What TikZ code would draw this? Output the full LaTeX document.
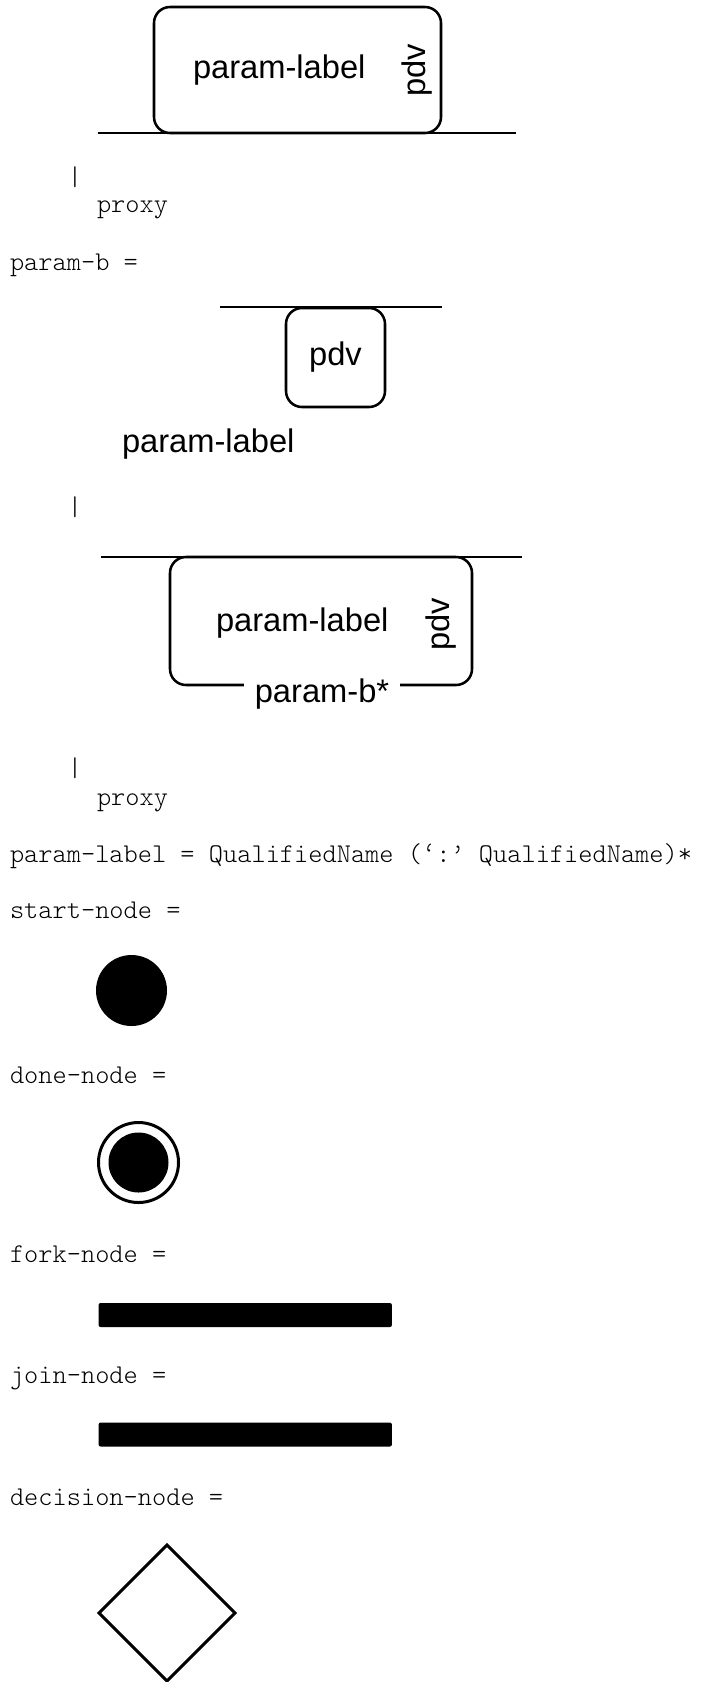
\documentclass[tikz,border=0pt]{standalone}
\usepackage{fontspec}
\setmainfont{Liberation Sans}
\setmonofont{lmmonolt10-regular}[Extension=.otf]
\usetikzlibrary{shapes.geometric}

\tikzstyle{every node}=[inner sep=0pt, outer sep=0pt]
\tikzstyle{sanstext}=[font={\fontsize{24.5}{28}\selectfont}]
\tikzstyle{code}=[font={\fontsize{20.3}{23}\selectfont\ttfamily}, anchor=base west]
\tikzstyle{pbox}=[draw, line width=1.9pt, rounded corners=12pt]
\tikzstyle{rail}=[line width=2.2pt]
\tikzstyle{bar}=[fill=black, rounded corners=1.5pt, minimum width=220pt, minimum height=18pt]

\begin{document}
\begin{tikzpicture}[x=0.75pt, y=-0.75pt]
    \useasboundingbox (0,0) rectangle (704,1682);

    \node [pbox, minimum width=215.25pt, minimum height=94.5pt] (box1) at (297.5,70) {};
    \coordinate (r1a) at (97.6,133);
    \coordinate (r1b) at (516,133);
    \draw [rail] (r1a) -- (r1b);
    \node [sanstext, anchor=base west] (lab1) at (193,78) {param-label};
    \node [sanstext, rotate=90] (pdv1) at (417,70) {pdv};

    \node [code, anchor=center] (bar1) at (75,177) {|};
    \node [code] (proxy1) at (97,212) {proxy};
    \node [code] (paramb) at (10,270) {param-b =};

    \coordinate (r2a) at (220,307);
    \coordinate (r2b) at (442,307);
    \draw [rail] (r2a) -- (r2b);
    \node [pbox, minimum width=74.25pt, minimum height=74.25pt] (box2) at (335.5,357.5) {};
    \node [sanstext] (pdv2) at (box2.center) {pdv};

    \node [sanstext, anchor=base west] (lab2) at (122,452) {param-label};
    \node [code, anchor=center] (bar2) at (75,507) {|};

    \coordinate (r3a) at (101,557);
    \coordinate (r3b) at (522,557);
    \draw [rail] (r3a) -- (r3b);
    \node [pbox, minimum width=226.5pt, minimum height=96pt] (box3) at (321,621) {};
    \node [sanstext, anchor=base west] (lab3) at (216,631) {param-label};
    \node [sanstext, rotate=90] (pdv3) at (441,624) {pdv};
    \node [sanstext, anchor=base, fill=white, inner xsep=8pt, inner ysep=2pt] (bstar) at (322,702) {param-b*};

    \node [code, anchor=center] (bar3) at (75,768) {|};
    \node [code] (proxy2) at (97,805) {proxy};

    \node [code] (labdef) at (10,862) {param-label = QualifiedName (‘:’ QualifiedName)*};

    \node [code] (startlab) at (10,918) {start-node =};
    \node [circle, fill=black, minimum size=53.25pt] (start) at (131.5,990.5) {};

    \node [code] (donelab) at (10,1083) {done-node =};
    \node [circle, draw, line width=2.25pt, minimum size=60pt] (done) at (138.5,1162.5) {};
    \node [circle, fill=black, minimum size=45pt] (doneinner) at (done.center) {};

    \node [code] (forklab) at (10,1262) {fork-node =};
    \node [bar] (fork) at (245.25,1315) {};

    \node [code] (joinlab) at (10,1383) {join-node =};
    \node [bar] (join) at (245.25,1434.5) {};

    \node [code] (decisionlab) at (10,1505) {decision-node =};
    \node [diamond, draw, line width=2.25pt, minimum width=102pt, minimum height=102pt] (decision) at (167,1613) {};
\end{tikzpicture}
\end{document}
